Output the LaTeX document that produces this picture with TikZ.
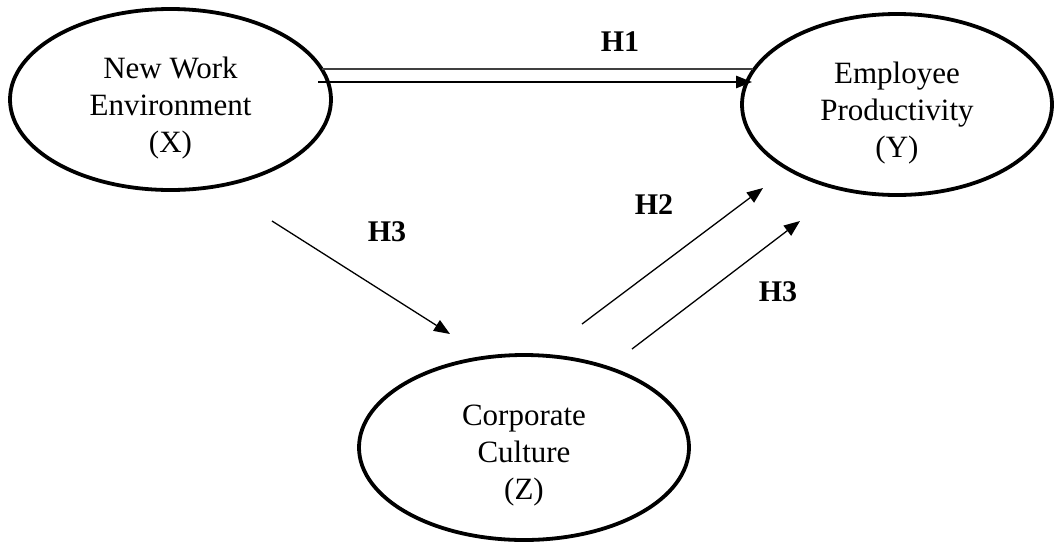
\documentclass[tikz,border=0pt]{standalone}
\usepackage{fontspec}
\setmainfont{Liberation Serif}
\usetikzlibrary{shapes.geometric,arrows.meta}
\begin{document}
\begin{tikzpicture}[x=1pt,y=-1pt,
  latent/.style={ellipse,draw,line width=3.8pt,inner sep=0pt},
  latenttext/.style={align=center,inner sep=0pt,font=\fontsize{31}{37}\selectfont},
  link/.style={line width=1.3pt,-{Triangle[length=16pt,width=12.5pt]}},
  plainlink/.style={line width=1.3pt,draw=black!75},
  hyp/.style={font=\fontsize{30}{36}\selectfont\bfseries,inner sep=0pt}]
\useasboundingbox (0,0) rectangle (1055,547);
\node[latent,minimum width=321pt,minimum height=181pt] (X) at (170.5,99.5) {};
\node[latent,minimum width=310pt,minimum height=181pt] (Y) at (897,104.5) {};
\node[latent,minimum width=330pt,minimum height=185pt] (Z) at (524,447.5) {};
\node[latenttext,yshift=-9pt] (Xt) at (X.center) {New Work\\Environment\\(X)};
\node[latenttext,yshift=-8.5pt] (Yt) at (Y.center) {Employee\\Productivity\\(Y)};
\node[latenttext,yshift=-8.5pt] (Zt) at (Z.center) {Corporate\\Culture\\(Z)};
% connector end points
\coordinate (h1ta) at (322,69);
\coordinate (h1tb) at (753,69);
\coordinate (h1a) at (318,82);
\coordinate (h1b) at (752,82);
\coordinate (h3a) at (272,221);
\coordinate (h3b) at (450,334);
\coordinate (h2a) at (582,324);
\coordinate (h2b) at (763,188);
\coordinate (h3c) at (632,349);
\coordinate (h3d) at (800,221);
\draw[plainlink] (h1ta) -- (h1tb);
\draw[link] (h1a) -- (h1b);
\draw[link] (h3a) -- (h3b);
\draw[link] (h2a) -- (h2b);
\draw[link] (h3c) -- (h3d);
\node[hyp] (lh1) at (620,42) {H1};
\node[hyp] (lh3a) at (387,232) {H3};
\node[hyp] (lh2) at (654,205) {H2};
\node[hyp] (lh3b) at (778,292) {H3};
\end{tikzpicture}
\end{document}
